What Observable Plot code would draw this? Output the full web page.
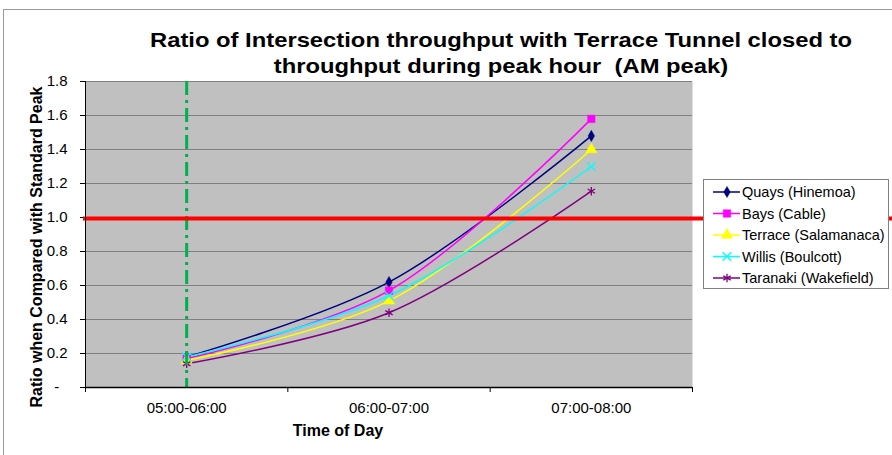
<!DOCTYPE html>
<html>
<head>
<meta charset="utf-8">
<script src="https://cdn.jsdelivr.net/npm/d3@7"></script>
<script src="https://cdn.jsdelivr.net/npm/@observablehq/plot@0.6"></script>
<style>
  body { margin: 0; background: #fff; font-family: "Liberation Sans", Arial, sans-serif; }
  #wrap { position: relative; width: 892px; height: 455px; overflow: hidden; }
  #frame { position: absolute; left: 3px; top: 9px; width: 1000px; height: 1000px; border-left: 1px solid #9a9a9a; border-top: 1px solid #9a9a9a; }
  #chart { position: absolute; left: 0; top: 0; }
  #title { position: absolute; left: 0; width: 1002px; top: 27px; text-align: center; font-weight: bold; font-size: 20.5px; line-height: 26px; color: #000; white-space: nowrap; transform: scaleX(1.16); transform-origin: 501px 0; }
  #ylabel { position: absolute; left: 37px; top: 247px; transform: translate(-50%, -50%) rotate(-90deg); font-weight: bold; font-size: 16px; white-space: nowrap; }
  #xlabel { position: absolute; left: 338px; top: 431px; transform: translate(-50%, -50%); font-weight: bold; font-size: 16px; white-space: nowrap; }
  #legend { position: absolute; left: 703px; top: 179px; }
</style>
</head>
<body>
<div id="wrap">
  <div id="frame"></div>
  <div id="chart"></div>
  <div id="title">Ratio of Intersection throughput with Terrace Tunnel closed to<br>throughput during peak hour&nbsp; (AM peak)</div>
  <div id="ylabel">Ratio when Compared with Standard Peak</div>
  <div id="xlabel">Time of Day</div>
  <div id="legend"></div>
</div>
<script>
// ---- data ----
const categories = ["05:00-06:00", "06:00-07:00", "07:00-08:00"];
const seriesNames = ["Quays (Hinemoa)", "Bays (Cable)", "Terrace (Salamanaca)", "Willis (Boulcott)", "Taranaki (Wakefield)"];
const quays    = [0.18, 0.62, 1.48];
const bays     = [0.17, 0.57, 1.58];
const terrace  = [0.16, 0.51, 1.40];
const willis   = [0.18, 0.54, 1.30];
const taranaki = [0.14, 0.44, 1.155];
const yTicks = [0, 0.2, 0.4, 0.6, 0.8, 1.0, 1.2, 1.4, 1.6, 1.8];
const referenceRatio = 1.0;

// ---- styles ----
const seriesValues = [quays, bays, terrace, willis, taranaki];
const colors  = ["#000080", "#FF00FF", "#FFFF00", "#00FFFF", "#800080"];
const symbols = ["diamond", "square", "triangle", "times", "asterisk"];
const filled  = [true, true, true, false, false];
const sizes   = [3.4, 4.2, 4.2, 4.0, 4.0];

const rows = seriesNames.flatMap((s, si) =>
  seriesValues[si].map((v, i) => ({series: s, si, cat: categories[i], xi: i + 0.5, value: v})));

const marks = [
  Plot.frame({fill: "#C0C0C0", stroke: null}),
  Plot.gridY(yTicks, {stroke: "#808080", strokeOpacity: 1, strokeWidth: 1}),
  Plot.axisY({ticks: yTicks, tickSize: 5, tickPadding: 13, label: null,
    tickFormat: d => d === 0 ? "-\u00a0\u00a0" : d.toFixed(1)}),
  Plot.axisX({ticks: d3.range(categories.length + 1), tickSize: 5, tickFormat: () => "", label: null}),
  Plot.axisX({ticks: categories.map((c, i) => i + 0.5), tickSize: 0, tickPadding: 15, label: null,
    tickFormat: d => categories[Math.floor(d)]}),
];
seriesNames.forEach((s, si) => {
  const data = rows.filter(r => r.si === si);
  marks.push(Plot.line(data, {x: "xi", y: "value", stroke: colors[si], strokeWidth: 1.5, curve: "catmull-rom"}));
});
seriesNames.forEach((s, si) => {
  const data = rows.filter(r => r.si === si);
  marks.push(Plot.dot(data, filled[si]
    ? {x: "xi", y: "value", symbol: () => symbols[si], r: sizes[si], fill: colors[si], stroke: colors[si], strokeWidth: 0.5}
    : {x: "xi", y: "value", symbol: () => symbols[si], r: sizes[si], fill: "none", stroke: colors[si], strokeWidth: 1.3}));
});
marks.push(
  Plot.ruleX([0.5], {stroke: "#00B050", strokeWidth: 3, strokeDasharray: "14,5,3,5"}),
  Plot.ruleY([referenceRatio], {stroke: "#FF0000", strokeWidth: 4, dy: 1, insetLeft: -2, insetRight: -200}),
  Plot.ruleX([0], {stroke: "#000", strokeWidth: 1}),
  Plot.ruleY([0], {stroke: "#000", strokeWidth: 1.5})
);

const chart = Plot.plot({
  width: 892, height: 455,
  marginLeft: 85, marginRight: 200, marginTop: 81, marginBottom: 68,
  style: {fontFamily: '"Liberation Sans", Arial, sans-serif', fontSize: "15px", color: "#000", background: "transparent", overflow: "visible"},
  x: {type: "linear", domain: [0, categories.length]},
  y: {domain: [0, 1.8]},
  symbol: {type: "identity"},
  marks
});
document.getElementById("chart").appendChild(chart);

// ---- legend ----
const lw = 185, lh = 109, rowY = [13, 34.5, 56, 77.5, 99];
const lsvg = d3.select("#legend").append("svg").attr("width", lw + 2).attr("height", lh + 2);
lsvg.append("rect").attr("x", 0.5).attr("y", 0.5).attr("width", lw).attr("height", lh)
  .attr("fill", "#fff").attr("stroke", "#808080");
const symMap = {diamond: d3.symbolDiamond, square: d3.symbolSquare, triangle: d3.symbolTriangle, times: d3.symbolTimes, asterisk: d3.symbolAsterisk};
seriesNames.forEach((s, si) => {
  const g = lsvg.append("g").attr("transform", `translate(0,${rowY[si]})`);
  g.append("line").attr("x1", 10).attr("x2", 37).attr("stroke", colors[si]).attr("stroke-width", 1.5);
  const area = Math.PI * sizes[si] * sizes[si];
  g.append("path").attr("transform", "translate(24,0)")
    .attr("d", d3.symbol(symMap[symbols[si]], area)())
    .attr("fill", filled[si] ? colors[si] : "none")
    .attr("stroke", colors[si]).attr("stroke-width", filled[si] ? 0.5 : 1.3);
  g.append("text").attr("x", 39).attr("dy", "0.35em").attr("font-size", 14.5)
    .attr("font-family", '"Liberation Sans", Arial, sans-serif').text(s);
});
</script>
</body>
</html>
